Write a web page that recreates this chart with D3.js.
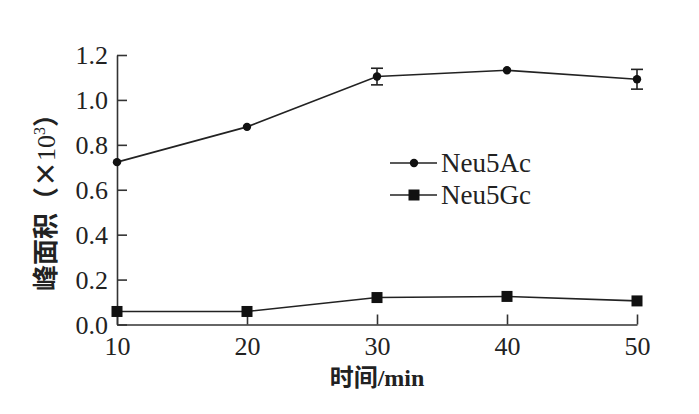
<!DOCTYPE html>
<html>
<head>
<meta charset="utf-8">
<script src="https://cdn.jsdelivr.net/npm/d3@7"></script>
<style>
  body { margin: 0; background: #fff; }
</style>
</head>
<body>
<div id="chart"></div>
<script>
// time (min) on x, peak area (x10^3) on y
var times = [10, 20, 30, 40, 50];
var neu5Ac = [0.723, 0.88, 1.104, 1.132, 1.092];
var neu5AcErr = [0, 0, 0.037, 0, 0.044];
var neu5Gc = [0.058, 0.058, 0.12, 0.125, 0.105];
var yTicks = [0, 0.2, 0.4, 0.6, 0.8, 1.0, 1.2];
var xTicks = [10, 20, 30, 40, 50];

var serif = '"Liberation Serif", "Times New Roman", serif';
var cjk = '"Noto Sans CJK SC", sans-serif';

var svgWidth = 699;
var svgHeight = 414;

var margin = {
    top: 55,
    right: 62,
    bottom: 89.5,
    left: 117
};

var chartWidth = svgWidth - margin.left - margin.right;
var chartHeight = svgHeight - margin.top - margin.bottom;

var svg = d3.select("#chart")
            .append("svg")
            .attr("width", svgWidth)
            .attr("height", svgHeight);

var chartGroup = svg.append("g")
                    .attr("transform", `translate(${margin.left}, ${margin.top})`);

var xScale = d3.scaleLinear()
    .domain([10, 50])
    .range([0, chartWidth]);

var yScale = d3.scaleLinear()
    .domain([0, 1.2])
    .range([chartHeight, 0]);

// axes, ticks point inwards
var bottomAxis = d3.axisBottom(xScale)
    .tickValues(xTicks)
    .tickSizeInner(-10)
    .tickSizeOuter(0)
    .tickPadding(12)
    .tickFormat(d3.format("d"));

var leftAxis = d3.axisLeft(yScale)
    .tickValues(yTicks)
    .tickSizeInner(-10)
    .tickSizeOuter(0)
    .tickPadding(9)
    .tickFormat(d3.format(".1f"));

var xAxis = chartGroup.append("g")
    .attr("transform", `translate(0, ${chartHeight})`)
    .call(bottomAxis);

var yAxis = chartGroup.append("g")
    .call(leftAxis);

[xAxis, yAxis].forEach(function(ax) {
  ax.attr("font-family", serif);
  ax.selectAll("path, line")
    .attr("stroke", "#333")
    .attr("stroke-width", 1.6);
  ax.selectAll("text")
    .style("font-family", serif)
    .style("font-size", "26px")
    .attr("fill", "#222");
});
yAxis.selectAll("text").attr("dy", "0.34em");

// lines
var acData = times.map((t, i) => ({x: t, y: neu5Ac[i], e: neu5AcErr[i]}));
var gcData = times.map((t, i) => ({x: t, y: neu5Gc[i]}));

var line = d3.line()
    .x(d => xScale(d.x))
    .y(d => yScale(d.y));

chartGroup.append("path")
    .datum(acData)
    .attr("d", line)
    .attr("fill", "none")
    .attr("stroke", "#222")
    .attr("stroke-width", 1.6);

chartGroup.append("path")
    .datum(gcData)
    .attr("d", line)
    .attr("fill", "none")
    .attr("stroke", "#222")
    .attr("stroke-width", 1.6);

// error bars for Neu5Ac
var errGroup = chartGroup.selectAll(null)
    .data(acData.filter(d => d.e > 0))
    .enter()
    .append("g")
    .attr("stroke", "#222")
    .attr("stroke-width", 1.6);

errGroup.append("line")
    .attr("x1", d => xScale(d.x))
    .attr("x2", d => xScale(d.x))
    .attr("y1", d => yScale(d.y + d.e))
    .attr("y2", d => yScale(d.y - d.e));

errGroup.append("line")
    .attr("x1", d => xScale(d.x) - 6)
    .attr("x2", d => xScale(d.x) + 6)
    .attr("y1", d => yScale(d.y + d.e))
    .attr("y2", d => yScale(d.y + d.e));

errGroup.append("line")
    .attr("x1", d => xScale(d.x) - 6)
    .attr("x2", d => xScale(d.x) + 6)
    .attr("y1", d => yScale(d.y - d.e))
    .attr("y2", d => yScale(d.y - d.e));

// markers
chartGroup.selectAll(null)
    .data(acData)
    .enter()
    .append("circle")
    .attr("cx", d => xScale(d.x))
    .attr("cy", d => yScale(d.y))
    .attr("r", 4.2)
    .attr("fill", "#111");

chartGroup.selectAll(null)
    .data(gcData)
    .enter()
    .append("rect")
    .attr("x", d => xScale(d.x) - 5.5)
    .attr("y", d => yScale(d.y) - 5.5)
    .attr("width", 11)
    .attr("height", 11)
    .attr("fill", "#111");

// legend
var legend = svg.append("g")
    .style("font-family", serif)
    .style("font-size", "27px")
    .attr("fill", "#222");

legend.append("line")
    .attr("x1", 390).attr("x2", 437)
    .attr("y1", 163).attr("y2", 163)
    .attr("stroke", "#222").attr("stroke-width", 1.6);
legend.append("circle")
    .attr("cx", 414).attr("cy", 163).attr("r", 4.2).attr("fill", "#111");
legend.append("text")
    .attr("x", 441).attr("y", 172)
    .text("Neu5Ac");

legend.append("line")
    .attr("x1", 390).attr("x2", 437)
    .attr("y1", 195).attr("y2", 195)
    .attr("stroke", "#222").attr("stroke-width", 1.6);
legend.append("rect")
    .attr("x", 408.5).attr("y", 189.5).attr("width", 11).attr("height", 11).attr("fill", "#111");
legend.append("text")
    .attr("x", 441).attr("y", 204)
    .text("Neu5Gc");

// axis titles
var xTitle = svg.append("text")
    .attr("x", 377)
    .attr("y", 386)
    .attr("text-anchor", "middle")
    .style("font-size", "24px")
    .attr("fill", "#222");
xTitle.append("tspan").style("font-family", cjk).style("font-weight", "bold").text("时间");
xTitle.append("tspan").style("font-family", serif).style("font-weight", "bold").text("/min");

var yTitle = svg.append("text")
    .attr("transform", "translate(55, 196) rotate(-90)")
    .attr("text-anchor", "middle")
    .style("font-size", "26px")
    .attr("fill", "#222");
yTitle.append("tspan").style("font-family", cjk).style("font-weight", "bold").text("峰面积（×");
yTitle.append("tspan").style("font-family", serif).text("10");
yTitle.append("tspan").style("font-family", serif).style("font-size", "16px").attr("dy", "-10").text("3");
yTitle.append("tspan").style("font-family", cjk).style("font-weight", "bold").attr("dy", "10").text("）");
</script>
</body>
</html>
